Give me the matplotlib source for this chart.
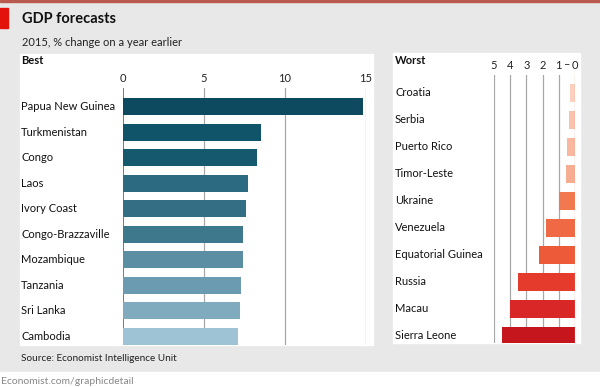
import matplotlib
matplotlib.use("Agg")
from matplotlib import pyplot as plt
from matplotlib.patches import Rectangle
from matplotlib.transforms import blended_transform_factory

plt.rcParams['font.family'] = ['Lato', 'DejaVu Sans']

best_countries = ["Papua New Guinea", "Turkmenistan", "Congo", "Laos", "Ivory Coast",
                  "Congo-Brazzaville", "Mozambique", "Tanzania", "Sri Lanka", "Cambodia"]
best_values = [14.8, 8.5, 8.3, 7.7, 7.6, 7.4, 7.4, 7.3, 7.2, 7.1]
best_colors = ['#0d4a5f', '#0f5469', '#14596e', '#2b6a80', '#336e84',
               '#3d788d', '#5b8ea2', '#6b9bb0', '#80abbf', '#9ec3d5']

worst_countries = ["Croatia", "Serbia", "Puerto Rico", "Timor-Leste", "Ukraine",
                   "Venezuela", "Equatorial Guinea", "Russia", "Macau", "Sierra Leone"]
worst_values = [-0.3, -0.4, -0.5, -0.55, -1.0, -1.8, -2.2, -3.5, -4.0, -4.5]
worst_colors = ['#fbd0bf', '#f9c2ab', '#f8b79e', '#f6ad92', '#f2784f',
                '#ef6a44', '#ec5a3a', '#e53b2c', '#d92626', '#c4161c']

best_ticks = [0, 5, 10, 15]
worst_ticks = [-5, -4, -3, -2, -1, 0]
worst_ticklabels = ['5', '4', '3', '2', '1', '0']

W, H = 600, 387
BG = '#e8e8e8'


def fx(x):
    return x / W


def fy(y):
    return 1 - y / H


def box(x0, y0, x1, y1):
    """caja en pixeles (arriba-izquierda, abajo-derecha) -> coords de figura"""
    return [fx(x0), fy(y1), (x1 - x0) / W, (y1 - y0) / H]


def fondo(x0, y0, x1, y1, color):
    b = box(x0, y0, x1, y1)
    fig.patches.append(Rectangle((b[0], b[1]), b[2], b[3], transform=fig.transFigure,
                                 color=color, zorder=-5))


fig = plt.figure(figsize=(W / 100, H / 100), dpi=100)
fig.patch.set_facecolor(BG)

# tiras y paneles blancos
fondo(0, 0, 600, 2, '#b85a4e')
fondo(0, 8, 8, 28, '#e3120b')
fondo(0, 372, 600, 387, 'white')
fondo(20, 54, 373, 345, 'white')
fondo(393, 53, 580, 343, 'white')

fig.text(fx(22), fy(23), "GDP forecasts", fontsize=10.5, fontweight='bold',
         color='#111111', va='baseline')
fig.text(fx(22), fy(46), "2015, % change on a year earlier", fontsize=8,
         color='#222222', va='baseline')
fig.text(fx(21), fy(64), "Best", fontsize=8, fontweight='bold', color='#111111', va='baseline')
fig.text(fx(395), fy(64), "Worst", fontsize=8, fontweight='bold', color='#111111', va='baseline')
fig.text(fx(21), fy(361), "Source: Economist Intelligence Unit", fontsize=7.2,
         color='#222222', va='baseline')
fig.text(fx(1), fy(384), "Economist.com/graphicdetail", fontsize=7.5,
         color='#888888', va='baseline')

##############
# MEJORES    #
##############

ax = fig.add_axes(box(123, 88, 366, 345))
ax.patch.set_alpha(0)
rows = range(len(best_countries))
ax.barh(rows, best_values, height=0.67, color=best_colors, zorder=3)
for t in best_ticks:
    ax.axvline(t, color='#555555' if t == 0 else '#a8a8a8', lw=1.1 if t == 0 else 0.9, zorder=1)
ax.set_xlim(0, 15)
ax.set_ylim(9.35, -0.73)
ax.xaxis.tick_top()
ax.set_xticks(best_ticks)
ax.tick_params(axis='x', length=0, pad=3, labelsize=8, labelcolor='#222222')
ax.set_yticks([])
for s in ax.spines.values():
    s.set_visible(False)
tr = blended_transform_factory(fig.transFigure, ax.transData)
for i, name in enumerate(best_countries):
    ax.text(fx(21), i, name, transform=tr, fontsize=8, color='#111111', va='center')

##############
# PEORES     #
##############

ax2 = fig.add_axes(box(494, 75, 575, 343))
ax2.patch.set_alpha(0)
ax2.barh(range(len(worst_countries)), worst_values, height=0.65, color=worst_colors, zorder=3)
for t in worst_ticks:
    ax2.axvline(t, color='#f08a6a' if t == 0 else '#a8a8a8', lw=0.9, zorder=1 if t else 4)
ax2.set_xlim(-5, 0)
ax2.set_ylim(9.26, -0.66)
ax2.xaxis.tick_top()
ax2.set_xticks(worst_ticks)
ax2.set_xticklabels(worst_ticklabels)
ax2.tick_params(axis='x', length=0, pad=3, labelsize=8, labelcolor='#222222')
ax2.set_yticks([])
for s in ax2.spines.values():
    s.set_visible(False)
# signo menos entre el 1 y el 0
ax2.text(-0.5, fy(68.5), "–", transform=blended_transform_factory(ax2.transData, fig.transFigure),
         fontsize=8, color='#222222', ha='center', va='baseline')
tr2 = blended_transform_factory(fig.transFigure, ax2.transData)
for i, name in enumerate(worst_countries):
    ax2.text(fx(395), i, name, transform=tr2, fontsize=8, color='#111111', va='center')

fig.savefig("out.png", dpi=100, facecolor=fig.get_facecolor())
